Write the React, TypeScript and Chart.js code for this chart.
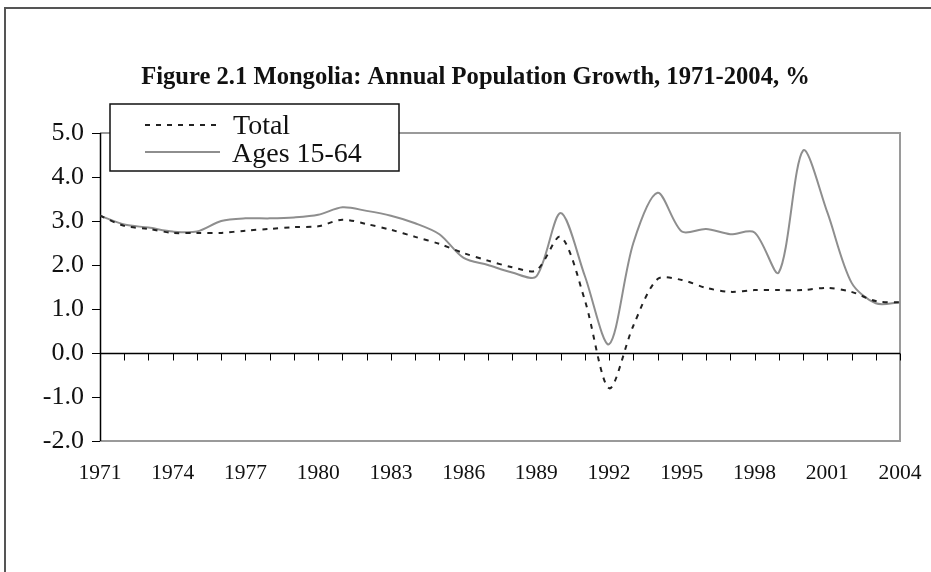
import { useEffect, useRef } from "react";
import { Chart, registerables } from "chart.js";

Chart.register(...registerables);

const years = [
  1971, 1972, 1973, 1974, 1975, 1976, 1977, 1978, 1979, 1980, 1981, 1982,
  1983, 1984, 1985, 1986, 1987, 1988, 1989, 1990, 1991, 1992, 1993, 1994,
  1995, 1996, 1997, 1998, 1999, 2000, 2001, 2002, 2003, 2004,
];

const totalGrowth = [
  3.12, 2.89, 2.82, 2.73, 2.73, 2.73, 2.78, 2.82, 2.86, 2.88, 3.03, 2.93,
  2.8, 2.64, 2.48, 2.27, 2.1, 1.95, 1.88, 2.64, 1.2, -0.8, 0.62, 1.68,
  1.66, 1.48, 1.39, 1.43, 1.43, 1.43, 1.48, 1.39, 1.18, 1.15,
];

const ages1564Growth = [
  3.12, 2.92, 2.85, 2.76, 2.76, 3.0, 3.06, 3.06, 3.08, 3.14, 3.31, 3.23,
  3.12, 2.95, 2.7, 2.16, 2.0, 1.83, 1.74, 3.18, 1.75, 0.2, 2.5, 3.64,
  2.76, 2.82, 2.7, 2.74, 1.83, 4.6, 3.2, 1.6, 1.13, 1.15,
];

const xTickLabels = [
  "1971", "1974", "1977", "1980", "1983", "1986", "1989", "1992", "1995",
  "1998", "2001", "2004",
];

const yTickValues = [-2, -1, 0, 1, 2, 3, 4, 5];

const seriesNames = ["Total", "Ages 15-64"];

const titleText = "Figure 2.1 Mongolia: Annual Population Growth, 1971-2004, %";

const SERIF = '"Liberation Serif", "Times New Roman", serif';
const TOTAL_COLOR = "#222222";
const AGES_COLOR = "#8e8e8e";
const TOTAL_DASH = [5, 6];

const decorPlugin = {
  id: "decor",
  beforeDraw(chart: any) {
    const { ctx, width, height } = chart;
    ctx.save();
    ctx.fillStyle = "#ffffff";
    ctx.fillRect(0, 0, width, height);
    ctx.strokeStyle = "#555555";
    ctx.lineWidth = 2;
    ctx.strokeRect(5, 8, width + 20, height + 20);
    ctx.restore();
  },
  beforeDatasetsDraw(chart: any) {
    const { ctx, chartArea: a, scales } = chart;
    const x = scales.x;
    const y = scales.y;
    ctx.save();
    ctx.strokeStyle = "#9a9a9a";
    ctx.lineWidth = 2;
    ctx.beginPath();
    ctx.moveTo(a.left, a.top);
    ctx.lineTo(a.right, a.top);
    ctx.lineTo(a.right, a.bottom);
    ctx.lineTo(a.left, a.bottom);
    ctx.stroke();
    const y0 = Math.round(y.getPixelForValue(0)) + 0.5;
    ctx.strokeStyle = "#000000";
    ctx.lineWidth = 1.5;
    ctx.beginPath();
    ctx.moveTo(a.left, y0);
    ctx.lineTo(a.right, y0);
    ctx.stroke();
    ctx.lineWidth = 1;
    ctx.beginPath();
    for (const yr of years) {
      const px = Math.round(x.getPixelForValue(yr)) + 0.5;
      ctx.moveTo(px, y0);
      ctx.lineTo(px, y0 + 7);
    }
    ctx.stroke();
    ctx.lineWidth = 1.5;
    ctx.beginPath();
    ctx.moveTo(a.left + 0.5, a.top);
    ctx.lineTo(a.left + 0.5, a.bottom);
    ctx.stroke();
    ctx.restore();
  },
  afterDraw(chart: any) {
    const { ctx } = chart;
    ctx.save();
    ctx.fillStyle = "#111111";
    ctx.font = `bold 24.6px ${SERIF}`;
    ctx.textAlign = "center";
    ctx.textBaseline = "alphabetic";
    ctx.fillText(titleText, 475.5, 84);
    const L = 110, T = 104, R = 399, B = 171;
    ctx.fillStyle = "#ffffff";
    ctx.fillRect(L, T, R - L, B - T);
    ctx.strokeStyle = "#111111";
    ctx.lineWidth = 1.5;
    ctx.strokeRect(L, T, R - L, B - T);
    ctx.strokeStyle = TOTAL_COLOR;
    ctx.lineWidth = 2;
    ctx.setLineDash(TOTAL_DASH);
    ctx.beginPath();
    ctx.moveTo(145, 125);
    ctx.lineTo(220, 125);
    ctx.stroke();
    ctx.setLineDash([]);
    ctx.strokeStyle = AGES_COLOR;
    ctx.beginPath();
    ctx.moveTo(145, 152);
    ctx.lineTo(220, 152);
    ctx.stroke();
    ctx.fillStyle = "#111111";
    ctx.font = `28px ${SERIF}`;
    ctx.textAlign = "left";
    ctx.fillText(seriesNames[0], 233, 134);
    ctx.fillText(seriesNames[1], 232, 162);
    ctx.restore();
  },
};

export default function App() {
  const canvasRef = useRef<HTMLCanvasElement | null>(null);

  useEffect(() => {
    const canvas = canvasRef.current;
    if (!canvas) return;
    const chart = new Chart(canvas, {
      type: "line",
      data: {
        datasets: [
          {
            label: seriesNames[0],
            data: years.map((yr, i) => ({ x: yr, y: totalGrowth[i] })),
            borderColor: TOTAL_COLOR,
            borderWidth: 2,
            borderDash: TOTAL_DASH,
            pointRadius: 0,
            tension: 0.3,
            fill: false,
          },
          {
            label: seriesNames[1],
            data: years.map((yr, i) => ({ x: yr, y: ages1564Growth[i] })),
            borderColor: AGES_COLOR,
            borderWidth: 2,
            pointRadius: 0,
            tension: 0.3,
            fill: false,
          },
        ],
      },
      options: {
        responsive: false,
        animation: false,
        devicePixelRatio: 1,
        layout: { padding: { left: 0, top: 133, right: 31, bottom: 0 } },
        plugins: {
          legend: { display: false },
          title: { display: false },
          tooltip: { enabled: false },
        },
        scales: {
          x: {
            type: "linear",
            min: years[0],
            max: years[years.length - 1],
            afterFit: (s: any) => {
              s.height = 131;
              s.paddingLeft = 0;
              s.paddingRight = 0;
            },
            afterBuildTicks: (s: any) => {
              s.ticks = xTickLabels.map((t) => ({ value: Number(t) }));
            },
            ticks: {
              autoSkip: false,
              maxRotation: 0,
              padding: 19,
              color: "#111111",
              font: { family: SERIF, size: 21.5 },
              callback: (v: any) => String(v),
            },
            grid: { display: false, drawTicks: false },
            border: { display: false },
          },
          y: {
            min: -2,
            max: 5,
            afterFit: (s: any) => {
              s.width = 100;
            },
            afterBuildTicks: (s: any) => {
              s.ticks = yTickValues.map((v) => ({ value: v }));
            },
            ticks: {
              padding: 8,
              color: "#111111",
              font: { family: SERIF, size: 26 },
              callback: (v: any) => Number(v).toFixed(1),
            },
            grid: {
              display: true,
              drawOnChartArea: false,
              drawTicks: true,
              tickLength: 8,
              color: "#000000",
              lineWidth: 1,
            },
            border: { display: false },
          },
        },
      },
      plugins: [decorPlugin],
    });
    return () => chart.destroy();
  }, []);

  return (
    <div
      style={{
        position: "fixed",
        left: 0,
        top: 0,
        width: 931,
        height: 572,
        overflow: "hidden",
        background: "#fff",
      }}
    >
      <canvas ref={canvasRef} width={931} height={572} style={{ display: "block" }} />
    </div>
  );
}
